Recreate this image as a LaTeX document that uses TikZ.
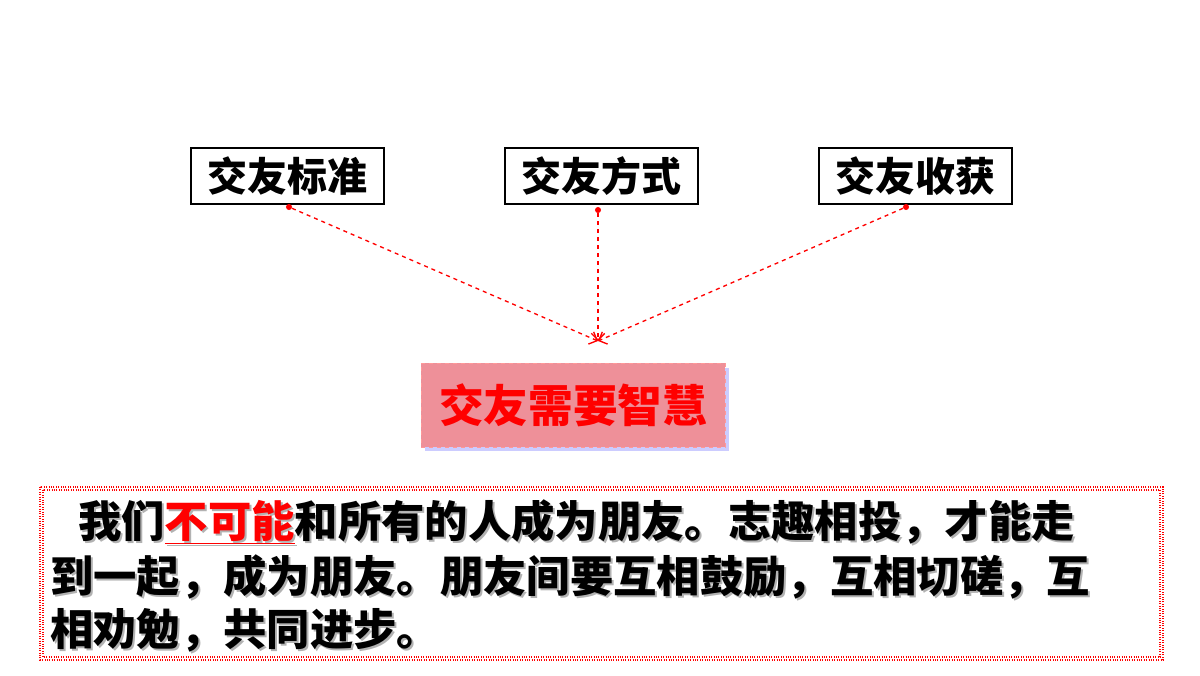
\documentclass[tikz,border=0pt]{standalone}
\usepackage{fontspec}
\usetikzlibrary{arrows.meta}
\newfontfamily\cjk{Noto Sans CJK SC}
\begin{document}
\begin{tikzpicture}[x=0.75pt,y=-0.75pt,
  topbox/.style={draw=black,line width=0.8pt,minimum width=193*0.75pt,minimum height=56*0.75pt,inner sep=0pt,font=\cjk\bfseries\fontsize{30}{32}\selectfont},
  conn/.style={red,dashed,line width=1pt,-{Straight Barb[length=5pt]}},
  dotn/.style={circle,fill=red,inner sep=1.6pt},
  body/.style={anchor=west,inner sep=0pt,font=\cjk\bfseries\fontsize{32.5}{34}\selectfont}]
\useasboundingbox (0,0) rectangle (1200,675);
\node[topbox] (a) at (287.5,176) {交友标准};
\node[topbox] (b) at (601.5,176) {交友方式};
\node[topbox] (c) at (915.5,176) {交友收获};
\node[dotn] (da) at (289,207) {};
\node[dotn] (db) at (598,210) {};
\node[dotn] (dc) at (906,207) {};
\coordinate (m) at (598,341);
\draw[conn] (da) -- (m);
\draw[conn] (db) -- (m);
\draw[conn] (dc) -- (m);
\fill[blue!40,opacity=0.5] (425,368) rectangle (729,451);
\node[draw=red!40,dashed,fill={rgb,255:red,238;green,144;blue,153},minimum width=304*0.75pt,minimum height=84*0.75pt,inner sep=0pt,text=red,font=\cjk\bfseries\fontsize{33.5}{35}\selectfont] (w) at (573,405) {交友需要智慧};
\draw[red,densely dotted,line width=0.8pt] (40,487) rectangle (1163,660);
\draw[red,densely dotted,line width=0.8pt] (43,490) rectangle (1160,657);
\node[body,text=gray!60] (s1) at (80,524) {我们\underline{不可能}和所有的人成为朋友。志趣相投，才能走};
\node[body,text=gray!60] (s2) at (52,579) {到一起，成为朋友。朋友间要互相鼓励，互相切磋，互};
\node[body,text=gray!60] (s3) at (52,632) {相劝勉，共同进步。};
\node[body] (l1) at (78,522) {我们{\color{red}\underline{不可能}}和所有的人成为朋友。志趣相投，才能走};
\node[body] (l2) at (50,577) {到一起，成为朋友。朋友间要互相鼓励，互相切磋，互};
\node[body] (l3) at (50,630) {相劝勉，共同进步。};
\end{tikzpicture}
\end{document}
